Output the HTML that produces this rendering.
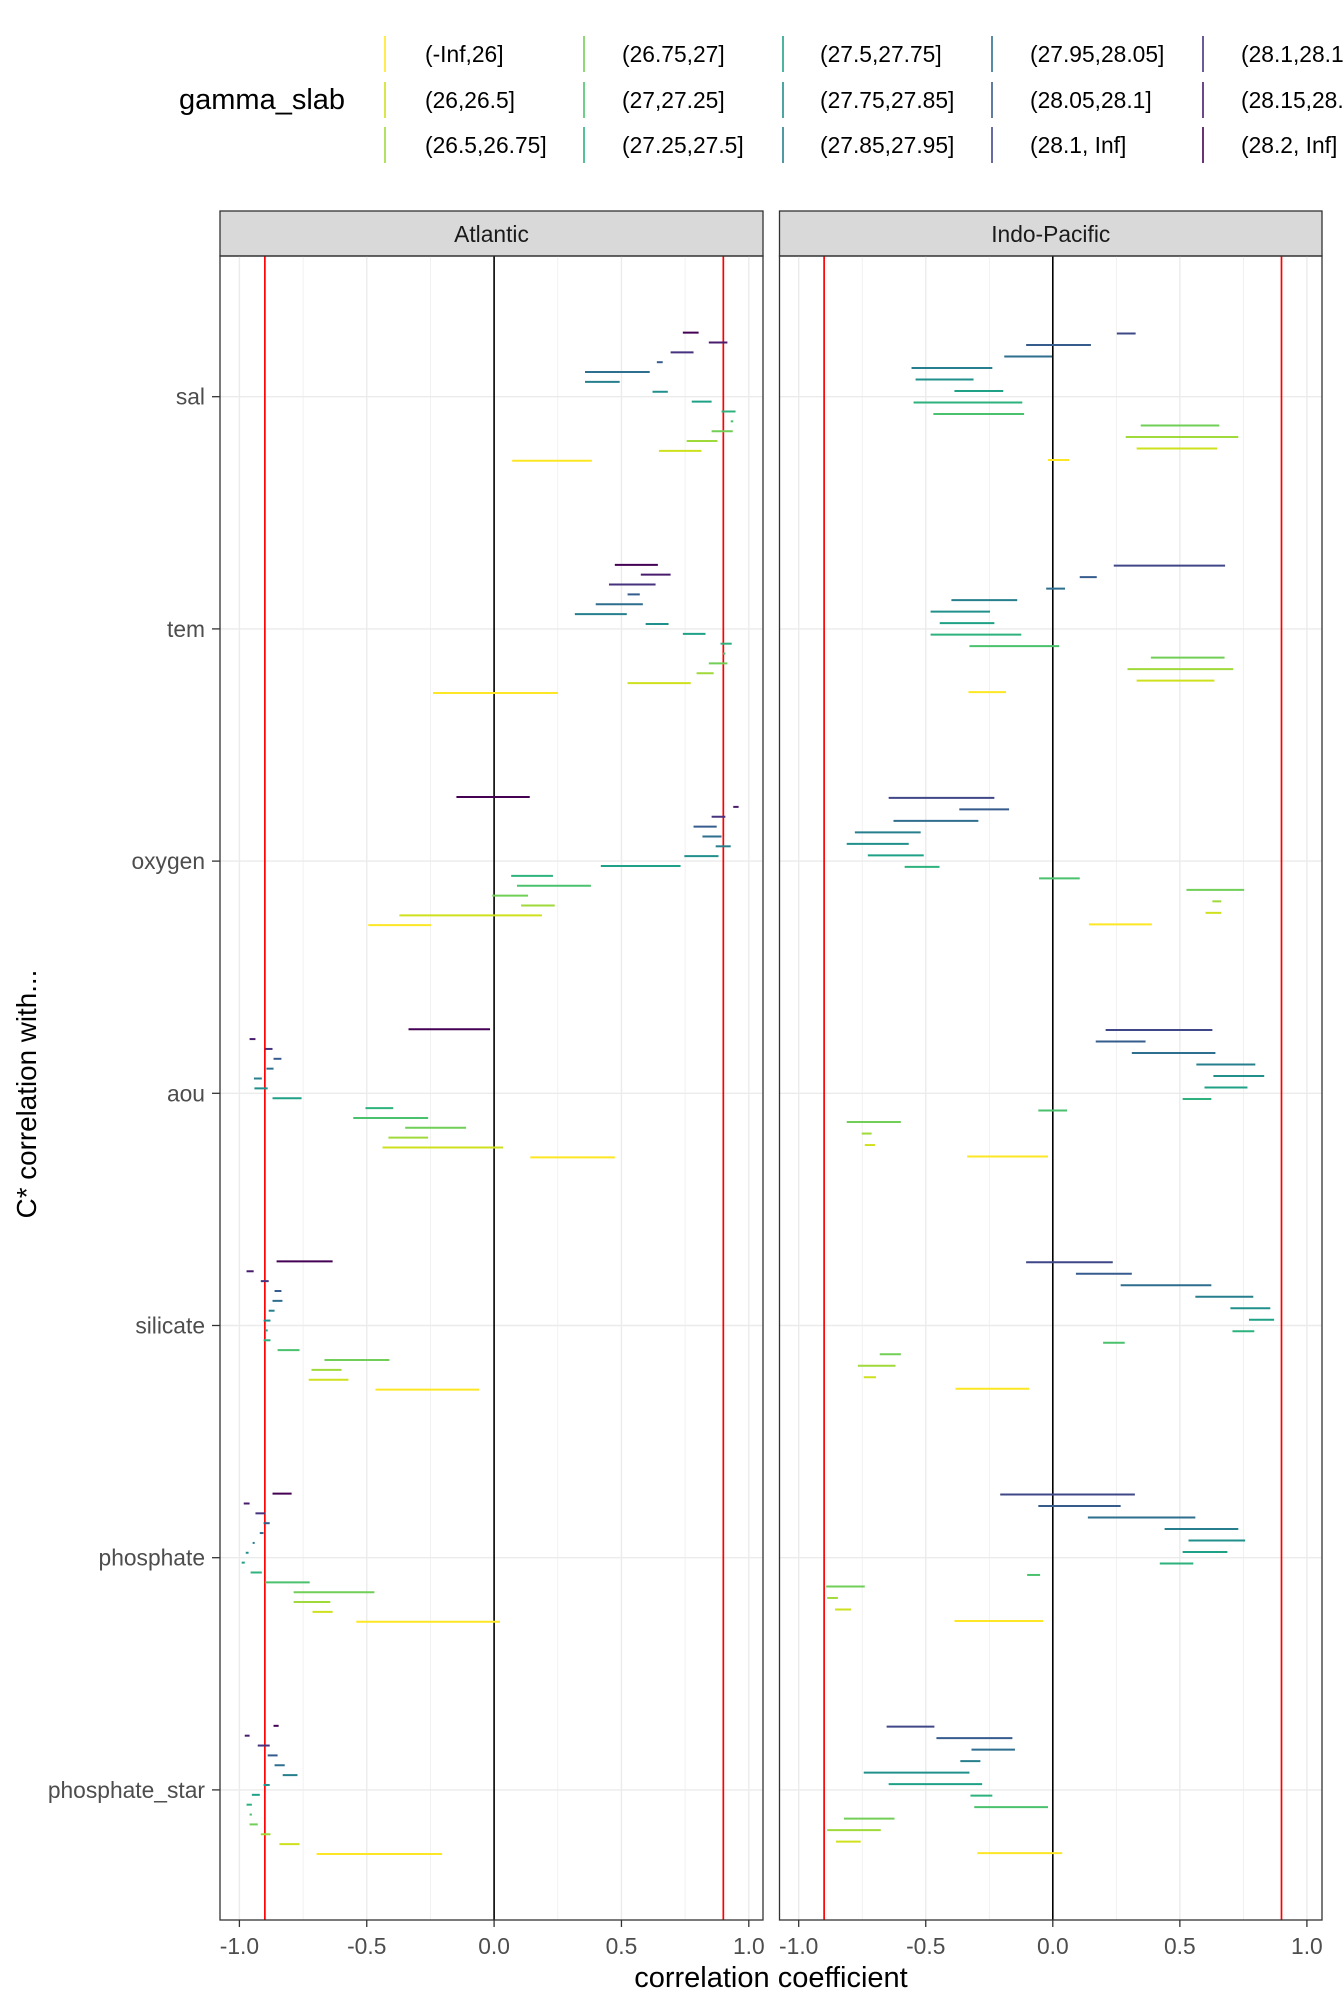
<!DOCTYPE html>
<html><head><meta charset="utf-8"><style>
html,body{margin:0;padding:0;background:#fff;width:1344px;height:2016px;overflow:hidden}
svg{display:block;font-family:"Liberation Sans",Arial,sans-serif}
</style></head><body>
<svg id="chart" width="1344" height="2016" viewBox="0 0 1344 2016" xmlns="http://www.w3.org/2000/svg"></svg>
<script>
// ---- data ----
const variables = ["sal","tem","oxygen","aou","silicate","phosphate","phosphate_star"];
const levelLabels = ["(-Inf,26]","(26,26.5]","(26.5,26.75]","(26.75,27]","(27,27.25]","(27.25,27.5]","(27.5,27.75]","(27.75,27.85]","(27.85,27.95]","(27.95,28.05]","(28.05,28.1]","(28.1, Inf]","(28.1,28.15]","(28.15,28.2]","(28.2, Inf]"];
const levelColors = ["#FDE725","#CFE11C","#9FDA3A","#71CF57","#4AC16D","#2DB27D","#1FA187","#21908C","#277F8E","#2E6E8E","#365C8D","#3F4788","#46327E","#481B6D","#440154"];
const xTicks = [-1,-0.5,0,0.5,1];
const xTickLabels = ["-1.0","-0.5","0.0","0.5","1.0"];
const atlLevels = [15,14,13,11,10,9,8,7,6,5,4,3,2,1];
const indLevels = [12,11,10,9,8,7,6,5,4,3,2,1];
// ranges listed top (highest level) to bottom
const atlSal = [[0.741,0.803],[0.843,0.916],[0.693,0.783],[0.639,0.662],[0.357,0.611],[0.357,0.493],[0.622,0.682],[0.776,0.854],[0.893,0.948],[0.929,0.939],[0.854,0.937],[0.756,0.877],[0.647,0.814],[0.071,0.384]];
const atlTem = [[0.474,0.643],[0.576,0.693],[0.451,0.634],[0.524,0.572],[0.399,0.584],[0.317,0.521],[0.595,0.685],[0.741,0.830],[0.889,0.933],[0.899,0.908],[0.843,0.916],[0.795,0.862],[0.524,0.772],[-0.240,0.251]];
const atlOxygen = [[-0.148,0.140],[0.939,0.960],[0.854,0.908],[0.783,0.874],[0.818,0.893],[0.870,0.929],[0.747,0.881],[0.419,0.732],[0.067,0.231],[0.090,0.380],[-0.007,0.133],[0.106,0.238],[-0.372,0.188],[-0.494,-0.248]];
const atlAou = [[-0.336,-0.016],[-0.960,-0.937],[-0.900,-0.870],[-0.866,-0.835],[-0.894,-0.866],[-0.943,-0.912],[-0.941,-0.889],[-0.870,-0.756],[-0.505,-0.396],[-0.553,-0.259],[-0.349,-0.110],[-0.415,-0.259],[-0.438,0.035],[0.142,0.474]];
const atlSilicate = [[-0.854,-0.634],[-0.972,-0.944],[-0.916,-0.885],[-0.862,-0.835],[-0.870,-0.831],[-0.885,-0.862],[-0.905,-0.878],[-0.900,-0.889],[-0.905,-0.878],[-0.850,-0.764],[-0.666,-0.411],[-0.717,-0.599],[-0.728,-0.572],[-0.466,-0.059]];
const atlPhosphate = [[-0.870,-0.795],[-0.983,-0.960],[-0.937,-0.900],[-0.905,-0.881],[-0.920,-0.905],[-0.948,-0.944],[-0.975,-0.964],[-0.991,-0.979],[-0.956,-0.912],[-0.900,-0.724],[-0.787,-0.470],[-0.787,-0.643],[-0.713,-0.634],[-0.541,0.023]];
const atlPstar = [[-0.866,-0.846],[-0.979,-0.960],[-0.928,-0.881],[-0.889,-0.850],[-0.862,-0.822],[-0.830,-0.772],[-0.905,-0.881],[-0.951,-0.920],[-0.972,-0.951],[-0.960,-0.951],[-0.960,-0.928],[-0.916,-0.878],[-0.843,-0.764],[-0.697,-0.204]];
const indSal = [[0.252,0.326],[-0.105,0.150],[-0.191,-0.003],[-0.556,-0.238],[-0.540,-0.312],[-0.387,-0.195],[-0.548,-0.120],[-0.470,-0.113],[0.346,0.655],[0.287,0.730],[0.330,0.647],[-0.019,0.064]];
const indTem = [[0.240,0.678],[0.106,0.173],[-0.026,0.048],[-0.399,-0.140],[-0.481,-0.247],[-0.445,-0.230],[-0.481,-0.124],[-0.328,0.025],[0.386,0.676],[0.294,0.710],[0.330,0.636],[-0.332,-0.184]];
const indOxygen = [[-0.646,-0.230],[-0.368,-0.172],[-0.627,-0.293],[-0.779,-0.520],[-0.811,-0.567],[-0.728,-0.508],[-0.583,-0.446],[-0.054,0.106],[0.526,0.753],[0.628,0.663],[0.601,0.663],[0.142,0.390]];
const indAou = [[0.208,0.628],[0.169,0.365],[0.311,0.640],[0.565,0.797],[0.632,0.832],[0.597,0.766],[0.511,0.624],[-0.057,0.056],[-0.811,-0.598],[-0.752,-0.713],[-0.740,-0.700],[-0.337,-0.019]];
const indSilicate = [[-0.105,0.236],[0.091,0.311],[0.267,0.624],[0.561,0.789],[0.699,0.856],[0.772,0.871],[0.707,0.793],[0.198,0.283],[-0.681,-0.598],[-0.767,-0.619],[-0.744,-0.696],[-0.383,-0.093]];
const indPhosphate = [[-0.207,0.323],[-0.057,0.267],[0.138,0.561],[0.440,0.730],[0.534,0.757],[0.511,0.687],[0.421,0.553],[-0.101,-0.050],[-0.892,-0.740],[-0.888,-0.846],[-0.857,-0.794],[-0.387,-0.038]];
const indPstar = [[-0.654,-0.466],[-0.458,-0.159],[-0.320,-0.149],[-0.364,-0.285],[-0.744,-0.328],[-0.646,-0.278],[-0.324,-0.238],[-0.309,-0.019],[-0.822,-0.623],[-0.888,-0.677],[-0.853,-0.756],[-0.297,0.037]];
const atlData = [atlSal,atlTem,atlOxygen,atlAou,atlSilicate,atlPhosphate,atlPstar];
const indData = [indSal,indTem,indOxygen,indAou,indSilicate,indPhosphate,indPstar];
const refLines = [-0.9,0.9];

// ---- layout ----
const NS="http://www.w3.org/2000/svg";
const svg=document.getElementById('chart');
function mk(tag,attrs,parent,text){const e=document.createElementNS(NS,tag);for(const k in attrs)e.setAttribute(k,attrs[k]);if(text!==undefined)e.textContent=text;(parent||svg).appendChild(e);return e;}
const panelTop=256, panelBottom=1920, stripTop=211;
const yFirst=396.7, yStep=232.2, dodgeW=138;
function yScale(i){return yFirst+i*yStep;}
const panels=[
 {name:"Atlantic",key:"atlantic",left:220,right:763,xm1:239.4,xp1:748.8,data:atlData,levels:atlLevels},
 {name:"Indo-Pacific",key:"indo-pacific",left:779.5,right:1322,xm1:798.7,xp1:1306.9,data:indData,levels:indLevels}
];

// y axis labels
variables.forEach((v,i)=>{
  const t=mk('text',{x:205,y:yScale(i)+8,'text-anchor':'end','font-size':22.8,fill:'#4D4D4D'},svg,v);
  
  
  const tk=mk('line',{x1:212,x2:220,y1:yScale(i),y2:yScale(i),stroke:'#333',"stroke-width":1.3});
  
  
});
const yt=mk('text',{x:0,y:0,transform:'translate(36,1094) rotate(-90)','text-anchor':'middle','font-size':27.8,fill:'#000'},svg,'C* correlation with...');


const xt=mk('text',{x:771,y:1987,'text-anchor':'middle','font-size':29,fill:'#000'},svg,'correlation coefficient');



panels.forEach(p=>{
  const xs=v=>p.xm1+(v+1)/2*(p.xp1-p.xm1);
  const g=mk('g',{});
  
  
  const st=mk('rect',{x:p.left,y:stripTop,width:p.right-p.left,height:panelTop-stripTop,fill:'#D9D9D9',stroke:'#333','stroke-width':1.3},g);
  
  
  const stt=mk('text',{x:(p.left+p.right)/2,y:242,'text-anchor':'middle','font-size':22.8,fill:'#1A1A1A'},g,p.name);
  
  
  [-0.75,-0.25,0.25,0.75].forEach(v=>{
    const l=mk('line',{x1:xs(v),x2:xs(v),y1:panelTop,y2:panelBottom,stroke:'#EBEBEB','stroke-width':0.7},g);
    
    
  });
  xTicks.forEach((v,i)=>{
    const l=mk('line',{x1:xs(v),x2:xs(v),y1:panelTop,y2:panelBottom,stroke:'#EBEBEB','stroke-width':1.4},g);
    
    
    const tk=mk('line',{x1:xs(v),x2:xs(v),y1:panelBottom,y2:panelBottom+7,stroke:'#333','stroke-width':1.3},g);
    
    
    const tl=mk('text',{x:xs(v),y:1954,'text-anchor':'middle','font-size':22.8,fill:'#4D4D4D'},g,xTickLabels[i]);
    
    
  });
  variables.forEach((v,i)=>{
    const l=mk('line',{x1:p.left,x2:p.right,y1:yScale(i),y2:yScale(i),stroke:'#EBEBEB','stroke-width':1.4},g);
    
    
  });
  const zl=mk('line',{x1:xs(0),x2:xs(0),y1:panelTop,y2:panelBottom,stroke:'#000','stroke-width':1.6},g);
  
  
  refLines.forEach(r=>{
    const l=mk('line',{x1:xs(r),x2:xs(r),y1:panelTop,y2:panelBottom,stroke:'#FF0000','stroke-width':1.7},g);
    
    
  });
  p.data.forEach((rows,vi)=>{
    const n=rows.length;
    rows.forEach((r,k)=>{
      const y=yScale(vi)+(k-(n-1)/2)*dodgeW/n;
      const lev=p.levels[k];
      const s=mk('line',{x1:xs(r[0]),x2:xs(Math.max(r[1],r[0]+0.008)),y1:y,y2:y,stroke:levelColors[lev-1],'stroke-width':2},g);
      
      
    });
  });
  const br=mk('rect',{x:p.left,y:panelTop,width:p.right-p.left,height:panelBottom-panelTop,fill:'none',stroke:'#333','stroke-width':1.3},g);
  
  
});

// legend
const lg=mk('g',{});


const ltitle=mk('text',{x:179,y:109,'font-size':29,fill:'#000'},lg,'gamma_slab');


const colKeyX=[385,584,783,992,1203];
const colTextX=[425,622,820,1030,1241];
const rowY=[54,100,145];
levelLabels.forEach((lab,i)=>{
  const c=Math.floor(i/3), r=i%3;
  const k=mk('line',{x1:colKeyX[c],x2:colKeyX[c],y1:rowY[r]-18,y2:rowY[r]+18,stroke:levelColors[i],'stroke-width':1.6},lg);
  
  
  const t=mk('text',{x:colTextX[c],y:rowY[r]+8,'font-size':22.8,fill:'#000'},lg,lab);
  
  
});
</script>
</body></html>
